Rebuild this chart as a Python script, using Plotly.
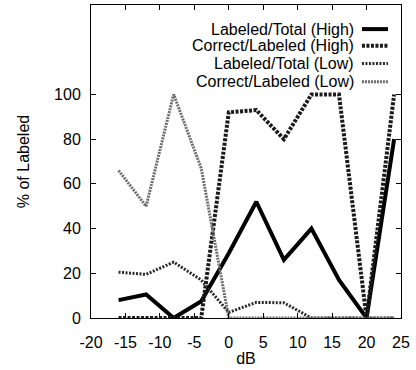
import plotly.graph_objects as go

# Signal-to-noise levels (dB)
db = [-16, -12, -8, -4, 0, 4, 8, 12, 16, 20, 24]

# Percentages per condition
labeled_total_high = [8, 10.5, 0, 7.5, 29, 52, 26, 40, 17, 0, 80]
correct_labeled_high = [0, 0, 0, 0, 92, 93, 80, 100, 100, 0, 100]
labeled_total_low = [20.5, 19.5, 25, 17, 2.5, 7, 6.8, 0, 0, 0, 0]
correct_labeled_low = [66, 50, 100, 67, 0, 0, 0, 0, 0, 0, 0]

x_ticks = [-20, -15, -10, -5, 0, 5, 10, 15, 20, 25]
y_ticks = [0, 20, 40, 60, 80, 100]

series = [
    ("Labeled/Total (High)", labeled_total_high, dict(color="#000000", width=4, dash="solid")),
    ("Correct/Labeled (High)", correct_labeled_high, dict(color="#1a1a1a", width=4, dash="3px,1.5px")),
    ("Labeled/Total (Low)", labeled_total_low, dict(color="#2a2a2a", width=3, dash="2px,1.5px")),
    ("Correct/Labeled (Low)", correct_labeled_low, dict(color="#6e6e6e", width=3, dash="2px,1px")),
]

FONT = "Liberation Sans Narrow, Arial Narrow, Liberation Sans, sans-serif"
FS = 16

fig = go.Figure()
for name, ys, style in series:
    fig.add_trace(go.Scatter(x=db, y=ys, mode="lines", name=name, line=style,
                             showlegend=False))

# Legend drawn as right-aligned labels with the line sample to the right
legend_rows = [0.923, 0.870, 0.813, 0.755]
for (name, _, style), yy in zip(series, legend_rows):
    fig.add_annotation(x=0.845, y=yy, xref="paper", yref="paper", text=name,
                       showarrow=False, xanchor="right", yanchor="middle",
                       xshift=3, font=dict(family=FONT, size=FS, color="#000"))
    fig.add_shape(type="line", xref="paper", yref="paper",
                  x0=0.874, x1=0.958, y0=yy, y1=yy,
                  line=dict(color=style["color"], width=style["width"], dash=style["dash"]))

axis_common = dict(
    showline=True, linecolor="#000", linewidth=1, mirror="ticks",
    ticks="inside", ticklen=5, tickcolor="#000", tickwidth=1,
    showgrid=False, zeroline=False,
    tickfont=dict(family=FONT, size=FS, color="#000"),
)

fig.update_xaxes(range=[-20, 25], tickvals=x_ticks, ticktext=[str(v) for v in x_ticks],
                 ticklabelstandoff=10,
                 title=dict(text="dB", font=dict(family=FONT, size=FS, color="#000"), standoff=2),
                 **axis_common)
fig.update_yaxes(range=[0, 140], tickvals=y_ticks, ticktext=[str(v) for v in y_ticks],
                 ticklabelstandoff=6,
                 title=dict(text="% of Labeled", font=dict(family=FONT, size=FS, color="#000"), standoff=20),
                 **axis_common)

fig.update_layout(
    width=416, height=370,
    margin=dict(l=91, r=15, t=5, b=52),
    paper_bgcolor="white", plot_bgcolor="white",
    showlegend=False,
)

fig.write_html("out.html")
